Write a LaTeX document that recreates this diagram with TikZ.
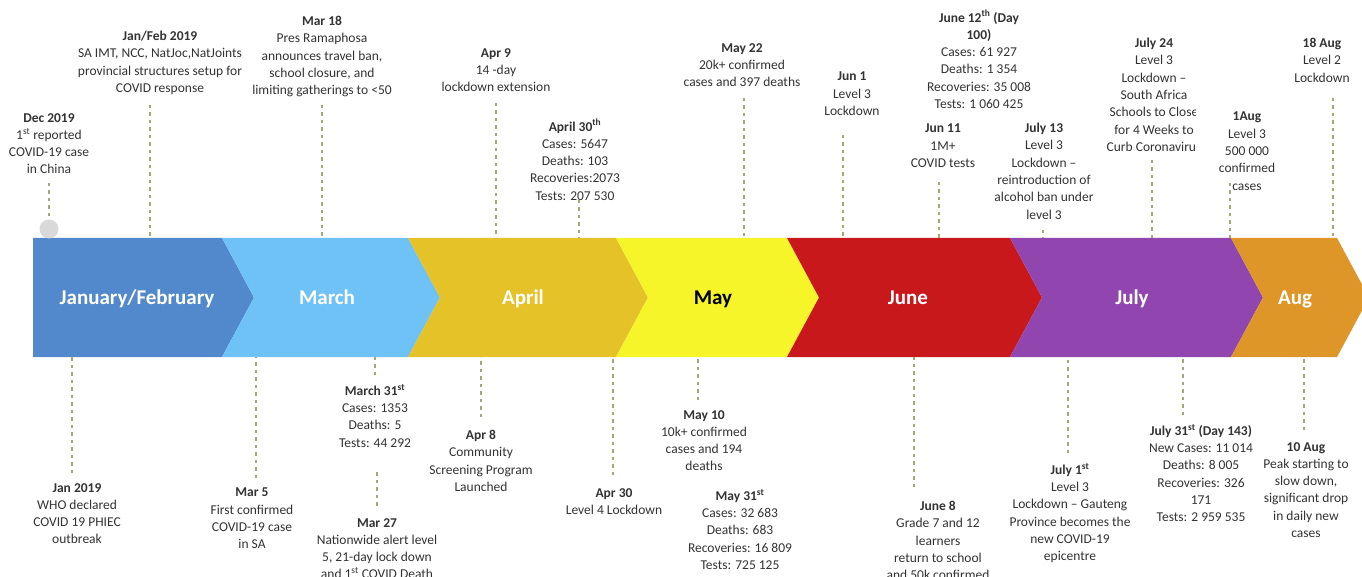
\documentclass[tikz,border=0pt]{standalone}
\usepackage{fontspec}
\setmainfont{Carlito}
\definecolor{cJF}{HTML}{5288CC}
\definecolor{cMar}{HTML}{6EC2F6}
\definecolor{cApr}{HTML}{E4C228}
\definecolor{cMay}{HTML}{F5F52A}
\definecolor{cJun}{HTML}{C8181C}
\definecolor{cJul}{HTML}{9146AF}
\definecolor{cAug}{HTML}{DE9628}
\definecolor{tickcol}{HTML}{A6A67A}
\definecolor{dotgray}{HTML}{D9D9D9}
\begin{document}
\begin{tikzpicture}[x=1pt,y=-1pt,
		evt/.style={align=center,inner sep=0pt,anchor=north,text=black!80,font=\fontsize{13.5}{17.3}\selectfont},
		month/.style={anchor=base,text=white,font=\fontsize{21}{25}\selectfont\bfseries},
		tick/.style={draw=tickcol,line width=1.2pt,dash pattern=on 3.5pt off 4pt}]
		\path[use as bounding box,fill=white](0,0)rectangle(1362,577);
		% month band
		\fill[cJF](33,238)--(222,238)--(254,297.5)--(222,357)--(33,357)--cycle;
		\foreach \a/\b/\c in {222/408/cMar,408/616/cApr,616/787/cMay,787/1010/cJun,1010/1231/cJul,1231/1337/cAug}
			\fill[\c](\a,238)--(\b,238)--(\b+32,297.5)--(\b,357)--(\a,357)--(\a+32,297.5)--cycle;
		\coordinate(bandN)at(0,238);
		\coordinate(bandS)at(0,357);
		\node[month](m-jf)at(137,305){January/February};
		\node[month](m-mar)at(327,305){March};
		\node[month](m-apr)at(523,305){April};
		\node[month,text=black](m-may)at(713,305){May};
		\node[month](m-jun)at(908,305){June};
		\node[month](m-jul)at(1132,305){July};
		\node[month](m-aug)at(1295,305){Aug};
		\node[circle,fill=dotgray,minimum size=19pt,inner sep=0pt](dot)at(49,229){};
		% events above the band
		\node[evt](dec)at(49,113){\textbf{Dec 2019}\\1\textsuperscript{st} reported\\COVID-19 case\\in China};
		\node[evt](janfeb)at(160,31){\textbf{Jan/Feb 2019}\\SA IMT, NCC, NatJoc,NatJoints\\provincial structures setup for\\COVID response};
		\node[evt](mar18)at(322,16){\textbf{Mar 18}\\Pres Ramaphosa\\announces travel ban,\\school closure, and\\limiting gatherings to <50};
		\node[evt](apr9)at(496,48){\textbf{Apr 9}\\14 -day\\lockdown extension};
		\node[evt](apr30th)at(575,119){\textbf{April 30\textsuperscript{th}}\\Cases: 5647\\Deaths: 103\\Recoveries:2073\\Tests: 207 530};
		\node[evt](may22)at(742,43){\textbf{May 22}\\20k+ confirmed\\cases and 397 deaths};
		\node[evt](jun1)at(852,72){\textbf{Jun 1}\\Level 3\\Lockdown};
		\node[evt](jun12)at(979,10){\textbf{June 12\textsuperscript{th} (Day}\\\textbf{100)}\\Cases: 61 927\\Deaths: 1 354\\Recoveries: 35 008\\Tests: 1 060 425};
		\node[evt](jun11)at(943,124){\textbf{Jun 11}\\1M+\\COVID tests};
		\node[evt](jul13)at(1044,123){\textbf{July 13}\\Level 3\\Lockdown --\\reintroduction of\\alcohol ban under\\level 3};
		\begin{scope}
			\clip(1090,25)rectangle(1195,160);
			\node[evt](jul24)at(1154,38){\textbf{July 24}\\Level 3\\Lockdown --\\South Africa\\Schools to Close\\for 4 Weeks to\\Curb Coronavirus};
		\end{scope}
		\node[evt](aug1)at(1247,112){\textbf{1Aug}\\Level 3\\500 000\\confirmed\\cases};
		\node[evt](aug18)at(1322,38){\textbf{18 Aug}\\Level 2\\Lockdown};
		% events below the band
		\node[evt](jan19)at(77,483){\textbf{Jan 2019}\\WHO declared\\COVID 19 PHIEC\\outbreak};
		\node[evt](mar5)at(252,488){\textbf{Mar 5}\\First confirmed\\COVID-19 case\\in SA};
		\node[evt](mar31)at(375,384){\textbf{March 31\textsuperscript{st}}\\Cases: 1353\\Deaths: 5\\Tests: 44 292};
		\node[evt](mar27)at(377,518){\textbf{Mar 27}\\Nationwide alert level\\5, 21-day lock down\\and 1\textsuperscript{st} COVID Death};
		\node[evt](apr8)at(481,430){\textbf{Apr 8}\\Community\\Screening Program\\Launched};
		\node[evt](apr30)at(614,488){\textbf{Apr 30}\\Level 4 Lockdown};
		\node[evt](may10)at(704,410){\textbf{May 10}\\10k+ confirmed\\cases and 194\\deaths};
		\node[evt](may31)at(740,489){\textbf{May 31\textsuperscript{st}}\\Cases: 32 683\\Deaths: 683\\Recoveries: 16 809\\Tests: 725 125};
		\node[evt](jun8)at(938,501){\textbf{June 8}\\Grade 7 and 12\\learners\\return to school\\and 50k confirmed};
		\node[evt](jul1)at(1070,463){\textbf{July 1\textsuperscript{st}}\\Level 3\\Lockdown -- Gauteng\\Province becomes the\\new COVID-19\\epicentre};
		\begin{scope}
			\clip(1140,410)rectangle(1252,530);
			\node[evt](jul31)at(1201,424){\textbf{July 31\textsuperscript{st} (Day 143)}\\New Cases: 11 014\\Deaths: 8 005\\Recoveries: 326\\171\\Tests: 2 959 535};
		\end{scope}
		\node[evt](aug10)at(1306,442){\textbf{10 Aug}\\Peak starting to\\slow down,\\significant drop\\in daily new\\cases};
		% dashed ticks
		\foreach \n/\x/\y in {dec/49/183,janfeb/150/105,mar18/322/105,apr9/496/103,apr30th/579/200,may22/744/98,jun1/843/135,jun11/939/182,jul13/1043/230,jul24/1152/160,aug1/1230/183,aug18/1333/98,
			jan19/72/473,mar5/256/478,mar31/375/375,mar27/377/472,apr8/481/417,apr30/613/475,may10/698/400,jun8/914/487,jul1/1068/453,jul31/1183/415,aug10/1304/430}
			\coordinate(t-\n)at(\x,\y);
		\draw[tick](t-dec)--(dot.north);
		\foreach \n in {janfeb,mar18,apr9,apr30th,may22,jun1,jun11,jul13,jul24,aug1,aug18}
			\draw[tick](t-\n)--(t-\n|-bandN);
		\foreach \n in {jan19,mar5,mar31,apr8,apr30,may10,jun8,jul1,jul31,aug10}
			\draw[tick](t-\n)--(t-\n|-bandS);
		\draw[tick,shorten >=11pt](t-mar27)--(t-mar27|-mar27.north);
\end{tikzpicture}
\end{document}
